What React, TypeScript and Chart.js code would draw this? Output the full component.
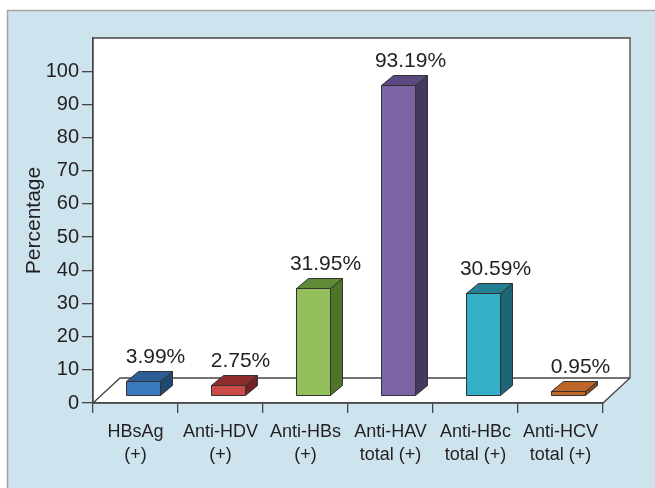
import React, { useEffect, useRef } from 'react';
import { Chart, registerables } from 'chart.js';

Chart.register(...registerables);

const categories: string[][] = [
  ['HBsAg', '(+)'],
  ['Anti-HDV', '(+)'],
  ['Anti-HBs', '(+)'],
  ['Anti-HAV', 'total (+)'],
  ['Anti-HBc', 'total (+)'],
  ['Anti-HCV', 'total (+)'],
];
const values: number[] = [3.99, 2.75, 31.95, 93.19, 30.59, 0.95];
const valueLabels: string[] = ['3.99%', '2.75%', '31.95%', '93.19%', '30.59%', '0.95%'];
const frontColors: string[] = ['#3b79be', '#c94c48', '#93c05c', '#7b63a6', '#31b0c8', '#c26a2c'];
const topColors: string[] = ['#2c5e95', '#8e2c2c', '#5f8a37', '#5a4a80', '#247f92', '#bc6629'];
const sideColors: string[] = ['#1f4872', '#762222', '#4e7528', '#45385f', '#1d6575', '#8a4a1c'];
const yTickValues: number[] = [0, 10, 20, 30, 40, 50, 60, 70, 80, 90, 100];

const FLOOR_DX = 27;
const FLOOR_DY = 25;
const BAR_DX = 12;
const BAR_DY = 10;
const FONT = '"Liberation Sans", Arial, Helvetica, sans-serif';
const LINE = '#454545';
const TEXT = '#231f20';

const framePlugin = {
  id: 'frame3d',
  beforeDraw(chart: any) {
    const ctx = chart.ctx as CanvasRenderingContext2D;
    const w = chart.width;
    const h = chart.height;
    ctx.save();
    ctx.fillStyle = '#ffffff';
    ctx.fillRect(0, 0, w, h);
    ctx.fillStyle = '#cde4ef';
    ctx.fillRect(7, 10, w - 7, h - 10);
    ctx.strokeStyle = '#a3a3a3';
    ctx.lineWidth = 1.5;
    ctx.beginPath();
    ctx.moveTo(7.5, h);
    ctx.lineTo(7.5, 10.5);
    ctx.lineTo(w, 10.5);
    ctx.stroke();

    const { left, right, top, bottom } = chart.chartArea;
    ctx.fillStyle = '#ffffff';
    ctx.strokeStyle = LINE;
    ctx.lineWidth = 1.3;
    ctx.beginPath();
    ctx.moveTo(left, top);
    ctx.lineTo(right + FLOOR_DX, top);
    ctx.lineTo(right + FLOOR_DX, bottom - FLOOR_DY);
    ctx.lineTo(right, bottom);
    ctx.lineTo(left, bottom);
    ctx.closePath();
    ctx.fill();
    ctx.stroke();
    ctx.beginPath();
    ctx.moveTo(left, bottom);
    ctx.lineTo(left + FLOOR_DX, bottom - FLOOR_DY);
    ctx.lineTo(right + FLOOR_DX, bottom - FLOOR_DY);
    ctx.stroke();
    ctx.restore();
  },
  afterDatasetsDraw(chart: any) {
    const ctx = chart.ctx as CanvasRenderingContext2D;
    const meta = chart.getDatasetMeta(0);
    const sx = (FLOOR_DX - BAR_DX) / 2;
    const sy = -(FLOOR_DY - BAR_DY) / 2;
    ctx.save();
    ctx.strokeStyle = '#333333';
    ctx.lineWidth = 1;
    ctx.lineJoin = 'round';
    meta.data.forEach((el: any, i: number) => {
      const p = el.getProps(['x', 'y', 'base', 'width'], true);
      const x0 = Math.round(p.x - p.width / 2 + sx) + 0.5;
      const x1 = Math.round(p.x + p.width / 2 + sx) + 0.5;
      const yT = Math.round(p.y + sy - 1) + 0.5;
      const yB = Math.round(p.base + sy) + 0.5;
      ctx.fillStyle = sideColors[i];
      ctx.beginPath();
      ctx.moveTo(x1, yB);
      ctx.lineTo(x1 + BAR_DX, yB - BAR_DY);
      ctx.lineTo(x1 + BAR_DX, yT - BAR_DY);
      ctx.lineTo(x1, yT);
      ctx.closePath();
      ctx.fill();
      ctx.stroke();
      ctx.fillStyle = topColors[i];
      ctx.beginPath();
      ctx.moveTo(x0, yT);
      ctx.lineTo(x0 + BAR_DX, yT - BAR_DY);
      ctx.lineTo(x1 + BAR_DX, yT - BAR_DY);
      ctx.lineTo(x1, yT);
      ctx.closePath();
      ctx.fill();
      ctx.stroke();
      ctx.fillStyle = frontColors[i];
      ctx.beginPath();
      ctx.rect(x0, yT, x1 - x0, yB - yT);
      ctx.fill();
      ctx.stroke();
      ctx.fillStyle = TEXT;
      ctx.font = `21px ${FONT}`;
      ctx.textAlign = 'center';
      ctx.textBaseline = 'alphabetic';
      ctx.fillText(valueLabels[i], (x0 + x1) / 2 + BAR_DX, yT - BAR_DY - 9);
    });
    ctx.restore();
  },
};

export default function App() {
  const ref = useRef<HTMLCanvasElement | null>(null);
  useEffect(() => {
    if (!ref.current) return;
    const chart = new Chart(ref.current, {
      type: 'bar',
      data: {
        labels: categories,
        datasets: [
          {
            data: values,
            backgroundColor: 'rgba(0,0,0,0)',
            borderWidth: 0,
            barPercentage: 0.4,
            categoryPercentage: 1,
          },
        ],
      },
      options: {
        responsive: false,
        animation: false,
        events: [],
        layout: { padding: { left: 0, top: 38, right: 52, bottom: 0 } },
        plugins: { legend: { display: false }, tooltip: { enabled: false } },
        scales: {
          x: {
            type: 'category',
            offset: true,
            grid: { offset: true, drawOnChartArea: false, drawTicks: true, tickLength: 10, color: LINE, lineWidth: 1.3 },
            border: { display: true, color: LINE, width: 1.3 },
            ticks: {
              font: { size: 18, family: FONT, lineHeight: 1.3 },
              color: TEXT,
              padding: 7,
              maxRotation: 0,
              autoSkip: false,
            },
            afterFit: (s: any) => {
              s.height = 85;
            },
          },
          y: {
            type: 'linear',
            min: 0,
            max: 110,
            afterBuildTicks: (axis: any) => {
              axis.ticks = yTickValues.map((v) => ({ value: v }));
            },
            grid: { drawOnChartArea: false, drawTicks: true, tickLength: 11, color: LINE, lineWidth: 1.3 },
            border: { display: true, color: LINE, width: 1.3 },
            ticks: {
              stepSize: 10,
              font: { size: 20, family: FONT },
              color: TEXT,
              padding: 3,
            },
            title: {
              display: true,
              text: 'Percentage',
              font: { size: 21, family: FONT },
              color: TEXT,
              padding: { top: 22, bottom: 0 },
            },
            afterFit: (s: any) => {
              s.width = 93;
            },
          },
        },
      },
      plugins: [framePlugin],
    } as any);
    return () => chart.destroy();
  }, []);
  return (
    <div style={{ position: 'absolute', left: 0, top: 0, width: 655, height: 488 }}>
      <canvas ref={ref} width={655} height={488} style={{ display: 'block' }} />
    </div>
  );
}
